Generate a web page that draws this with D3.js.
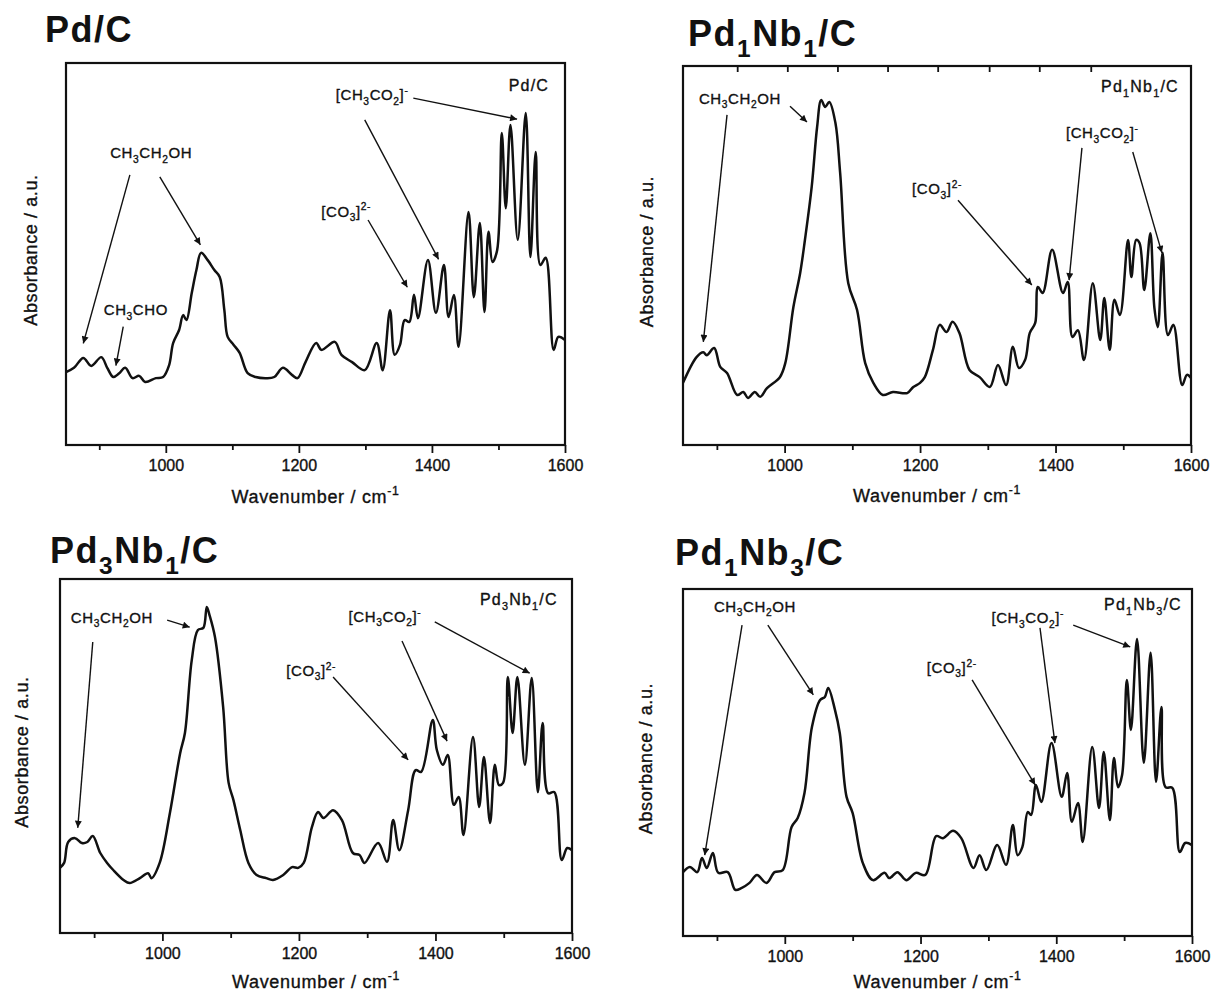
<!DOCTYPE html>
<html>
<head>
<meta charset="utf-8">
<script src="https://cdn.jsdelivr.net/npm/d3@7"></script>
<style>
  body { margin: 0; background: #fff; }
  svg { display: block; }
  text { font-family: "Liberation Sans", Arial, Helvetica, sans-serif; fill: #111; }
  .soft { stroke: #111; stroke-width: 0.35px; }
</style>
</head>
<body>
<svg id="chart" width="1211" height="991"></svg>
<script>
// ---- data (absorbance in a.u., 0-100 of the frame) ----
const majorTicks = [1000, 1200, 1400, 1600];
const minorTicks = [900, 1100, 1300, 1500];
const topTicksPd1Nb1 = [930, 1004, 1078, 1152, 1226, 1302, 1376, 1452];

const wnPdC = [850,862,876,888,903,912,921,930,939,950,960,969,985,996,1005,1011,1020,1026,1031,1039,1046,1053,1063,1073,1081,1088,1093,1102,1111,1123,1135,1151,1163,1176,1190,1198,1210,1226,1234,1254,1264,1280,1299,1317,1326,1337,1344,1352,1359,1366,1373,1379,1394,1406,1418,1425,1433,1440,1455,1463,1472,1479,1485,1491,1498,1505,1511,1518,1529,1541,1548,1556,1563,1571,1583,1590,1600];
const absPdC = [19.1,20.2,22.8,20.7,23.0,20.2,17.8,18.8,20.2,17.5,18.1,16.5,17.5,17.8,20.9,26.7,30.1,34.0,32.7,39.8,45.8,50.3,48.4,45.8,44.0,35.3,28.3,26.2,24.1,18.8,17.8,17.5,17.8,20.2,18.3,17.5,21.7,26.7,24.9,27.0,23.6,21.7,19.6,26.7,19.6,35.3,23.6,26.2,32.7,32.2,39.3,33.2,48.4,34.6,47.1,33.5,39.3,25.7,61.0,38.7,58.1,34.8,55.8,47.9,51.0,81.7,62.0,83.8,53.7,86.9,49.2,76.7,47.1,49.0,24.9,28.3,27.5];

const wnPd1Nb1 = [850,870,880,885,896,905,915,930,939,946,956,964,974,993,1001,1013,1023,1030,1040,1048,1054,1060,1066,1075,1082,1094,1107,1119,1131,1145,1160,1181,1190,1200,1207,1219,1229,1239,1248,1258,1273,1288,1303,1315,1327,1337,1346,1355,1362,1370,1374,1381,1395,1411,1418,1425,1433,1442,1455,1466,1472,1480,1487,1495,1507,1512,1519,1524,1531,1540,1546,1551,1558,1566,1574,1587,1594,1600];
const absPd1Nb1 = [16.4,23.2,24.5,23.7,25.6,20.6,19.0,13.2,14.0,12.4,14.0,12.7,15.0,17.9,21.6,36.4,45.4,54.1,68.1,83.9,91.0,89.2,90.5,85.0,71.8,42.7,35.6,21.6,16.4,13.2,14.0,13.7,15.3,16.4,17.9,25.1,31.7,29.8,32.5,29.6,19.8,17.9,15.3,21.1,15.8,25.9,20.3,22.4,29.6,32.2,41.7,40.1,51.5,40.1,43.0,28.5,30.3,22.4,42.7,27.7,38.8,25.1,38.3,34.3,54.1,44.3,54.1,53.3,40.9,55.9,36.1,31.1,50.7,29.0,31.7,15.8,18.5,17.7];

const wnPd3Nb1 = [850,856,862,872,882,890,898,909,919,928,943,952,967,979,984,996,1011,1026,1033,1043,1052,1060,1065,1069,1077,1089,1097,1104,1114,1126,1138,1152,1162,1177,1190,1199,1207,1219,1228,1236,1250,1263,1279,1289,1296,1316,1329,1338,1347,1360,1371,1379,1396,1402,1411,1418,1427,1434,1441,1455,1464,1471,1480,1487,1493,1499,1506,1513,1520,1531,1541,1550,1557,1565,1574,1585,1593,1600];
const absPd3Nb1 = [18.4,19.8,25.7,26.8,25.4,25.7,27.4,22.6,19.8,17.8,15.0,14.1,15.5,16.9,15.5,19.8,33.9,50.8,56.5,77.1,85.6,86.2,92.1,89.8,83.6,63.8,42.4,37.6,29.1,19.8,16.4,15.5,15.0,16.4,18.6,18.4,19.8,29.9,34.2,32.5,34.7,31.9,22.6,22.0,19.8,25.4,20.1,31.9,23.4,34.7,46.0,45.5,60.2,51.7,47.5,50.3,36.2,38.4,27.7,55.4,35.6,49.7,31.1,47.5,41.8,42.4,72.3,56.5,72.3,47.5,72.0,39.8,59.3,39.5,39.8,20.6,24.0,23.4];

const wnPd1Nb3 = [850,860,871,878,885,894,902,916,927,936,948,959,973,985,997,1010,1019,1029,1040,1052,1059,1064,1074,1081,1091,1100,1115,1130,1147,1154,1166,1179,1193,1207,1223,1233,1248,1260,1278,1287,1297,1313,1326,1336,1343,1350,1358,1363,1370,1378,1393,1408,1416,1423,1432,1439,1453,1463,1470,1479,1485,1491,1497,1504,1510,1519,1529,1539,1547,1555,1561,1571,1582,1590,1600];
const absPd1Nb3 = [18.4,19.9,18.4,22.5,19.6,23.9,18.2,18.4,13.3,13.8,15.3,17.6,15.3,18.4,19.0,31.4,34.0,41.2,60.2,68.0,68.9,71.5,65.1,58.5,40.1,35.4,21.0,16.1,18.2,16.7,18.4,16.1,18.2,17.6,28.8,28.2,30.3,28.2,19.6,23.3,19.0,26.2,20.5,32.0,23.3,25.6,35.7,34.9,43.5,38.6,55.6,40.1,47.0,32.9,38.3,27.1,54.5,36.9,53.0,33.4,51.3,42.9,46.4,73.8,59.4,85.6,49.9,81.6,44.4,66.0,42.9,42.7,24.2,26.8,26.2];

// band assignments: label anchor [wn, abs] and arrows [fromWn, fromAbs, toWn, toAbs]
const notesPdC = [
  { label: 'CH_3CH_2OH', at: [978, 75.1], arrows: [[946, 70.7, 876, 26.6], [991, 70.2, 1052, 52.4]] },
  { label: 'CH_3CHO', at: [955, 34.0], arrows: [[936, 31.0, 925, 20.8]] },
  { label: '[CO_3]^2-', at: [1271, 59.8], arrows: [[1304, 58.9, 1363, 41.3]] },
  { label: '[CH_3CO_2]^-', at: [1310, 90.3], arrows: [[1372, 90.8, 1528, 85.3], [1299, 85.1, 1410, 48.6]] }
];
const notesPd1Nb1 = [
  { label: 'CH_3CH_2OH', at: [934, 90.0], arrows: [[915, 87.1, 880, 27.2], [1008, 89.4, 1033, 85.2]] },
  { label: '[CO_3]^2-', at: [1225, 66.2], arrows: [[1256, 64.6, 1365, 42.2]] },
  { label: '[CH_3CO_2]^-', at: [1469, 81.0], arrows: [[1439, 78.4, 1420, 43.5], [1514, 77.3, 1557, 50.7]] }
];
const notesPd3Nb1 = [
  { label: 'CH_3CH_2OH', at: [926, 87.6], arrows: [[898, 82.2, 876, 29.7], [1007, 88.4, 1040, 86.4]] },
  { label: '[CO_3]^2-', at: [1218, 72.6], arrows: [[1250, 72.3, 1360, 48.9]] },
  { label: '[CH_3CO_2]^-', at: [1326, 87.9], arrows: [[1399, 87.9, 1538, 73.4], [1351, 82.5, 1417, 54.2]] }
];
const notesPd1Nb3 = [
  { label: 'CH_3CH_2OH', at: [956, 93.4], arrows: [[937, 89.6, 882, 23.3], [975, 89.6, 1042, 69.5]] },
  { label: '[CO_3]^2-', at: [1246, 75.8], arrows: [[1276, 73.8, 1369, 43.5]] },
  { label: '[CH_3CO_2]^-', at: [1358, 90.2], arrows: [[1376, 88.8, 1398, 55.6], [1425, 89.6, 1509, 83.3]] }
];

// ---- panel layout ----
const panels = [
  { title: 'Pd/C', wn: wnPdC, abs: absPdC, notes: notesPdC, inner: [1576, 92.7],
    x0: 66, x1: 565, y0: 63, y1: 445, tx: 45, ty: 42, ylx: 37, xly: 503, top: null },
  { title: 'Pd_1Nb_1/C', wn: wnPd1Nb1, abs: absPd1Nb1, notes: notesPd1Nb1, inner: [1582, 93.1],
    x0: 683, x1: 1191, y0: 66, y1: 445, tx: 688, ty: 46, ylx: 653, xly: 502, top: topTicksPd1Nb1 },
  { title: 'Pd_3Nb_1/C', wn: wnPd3Nb1, abs: absPd3Nb1, notes: notesPd3Nb1, inner: [1579, 92.7],
    x0: 60, x1: 572, y0: 579, y1: 933, tx: 50, ty: 563, ylx: 28, xly: 988, top: null },
  { title: 'Pd_1Nb_3/C', wn: wnPd1Nb3, abs: absPd1Nb3, notes: notesPd1Nb3, inner: [1585, 93.9],
    x0: 683, x1: 1192, y0: 589, y1: 936, tx: 675, ty: 565, ylx: 652, xly: 988, top: null }
];

const svg = d3.select('#chart');
svg.append('rect').attr('width', 1211).attr('height', 991).attr('fill', '#fff');

svg.append('defs').append('marker')
    .attr('id', 'arrow')
    .attr('viewBox', '0 0 10 10')
    .attr('refX', 10).attr('refY', 5)
    .attr('markerUnits', 'userSpaceOnUse')
    .attr('markerWidth', 9).attr('markerHeight', 7)
    .attr('orient', 'auto')
  .append('path')
    .attr('d', 'M0,0 L10,5 L0,10 Z')
    .attr('fill', '#111');

// writes "CH_3" style strings as subscript / superscript tspans
function rich(textSel, str, fs) {
  const re = /_(\d+)|\^(\S+)|([^_^]+)/g;
  let m, shift = 0;
  while ((m = re.exec(str)) !== null) {
    let t = m[3], size = fs, target = 0;
    if (m[1]) { t = m[1]; size = fs * 0.68; target = fs * 0.3; }
    else if (m[2]) { t = m[2]; size = fs * 0.68; target = -fs * 0.42; }
    textSel.append('tspan').attr('font-size', size).attr('dy', target - shift).text(t);
    shift = target;
  }
}

panels.forEach(p => {
  const x = d3.scaleLinear().domain([850, 1600]).range([p.x0, p.x1]);
  const y = d3.scaleLinear().domain([0, 100]).range([p.y1, p.y0]);
  const g = svg.append('g');

  // big panel title
  rich(g.append('text')
      .attr('x', p.tx).attr('y', p.ty)
      .attr('font-size', 36).attr('font-weight', 'bold')
      .attr('letter-spacing', 1.5), p.title, 36);

  // bottom axis: labelled major ticks, short minor ticks
  const bottom = g.append('g').attr('transform', `translate(0,${p.y1})`);
  bottom.call(d3.axisBottom(x).tickValues(majorTicks).tickSize(8).tickPadding(7).tickFormat(d3.format('d')));
  bottom.append('g').call(d3.axisBottom(x).tickValues(minorTicks).tickSize(5).tickFormat(''));
  bottom.selectAll('.domain').remove();
  bottom.selectAll('line').attr('stroke', '#111').attr('stroke-width', 1.8);
  bottom.selectAll('text')
      .attr('class', 'soft')
      .attr('font-size', 16).attr('fill', '#111')
      .style('font-family', '"Liberation Sans", Arial, sans-serif');

  if (p.top) {
    const top = g.append('g').attr('transform', `translate(0,${p.y0})`)
        .call(d3.axisBottom(x).tickValues(p.top).tickSize(6).tickFormat(''));
    top.selectAll('.domain').remove();
    top.selectAll('line').attr('stroke', '#111').attr('stroke-width', 1.8);
  }

  // frame
  g.append('rect')
      .attr('x', p.x0).attr('y', p.y0)
      .attr('width', p.x1 - p.x0).attr('height', p.y1 - p.y0)
      .attr('fill', 'none').attr('stroke', '#111').attr('stroke-width', 2.2);

  // axis titles
  rich(g.append('text')
      .attr('class', 'soft')
      .attr('x', (p.x0 + p.x1) / 2).attr('y', p.xly)
      .attr('text-anchor', 'middle').attr('font-size', 18)
      .attr('letter-spacing', 0.7), 'Wavenumber / cm^-1', 18);
  g.append('text')
      .attr('class', 'soft')
      .attr('transform', `translate(${p.ylx},${(p.y0 + p.y1) / 2 - 4}) rotate(-90)`)
      .attr('text-anchor', 'middle').attr('font-size', 18)
      .attr('letter-spacing', 0.6)
      .text('Absorbance / a.u.');

  // spectrum
  const line = d3.line()
      .x(d => x(d[0])).y(d => y(d[1]))
      .curve(d3.curveCatmullRom.alpha(0.5));
  g.append('path')
      .datum(d3.zip(p.wn, p.abs))
      .attr('d', line)
      .attr('fill', 'none').attr('stroke', '#111')
      .attr('stroke-width', 2.5).attr('stroke-linejoin', 'round');

  // sample label inside the frame
  rich(g.append('text')
      .attr('class', 'soft')
      .attr('x', x(p.inner[0])).attr('y', y(p.inner[1]))
      .attr('text-anchor', 'end').attr('font-size', 16)
      .attr('letter-spacing', 1.2), p.title, 16);

  // band assignments with arrows
  p.notes.forEach(n => {
    rich(g.append('text')
        .attr('class', 'soft')
        .attr('x', x(n.at[0])).attr('y', y(n.at[1]))
        .attr('text-anchor', 'middle').attr('font-size', 15)
        .attr('letter-spacing', 0.6), n.label, 15);
    n.arrows.forEach(a => {
      g.append('line')
          .attr('x1', x(a[0])).attr('y1', y(a[1]))
          .attr('x2', x(a[2])).attr('y2', y(a[3]))
          .attr('stroke', '#111').attr('stroke-width', 1.4)
          .attr('marker-end', 'url(#arrow)');
    });
  });
});
</script>
</body>
</html>
